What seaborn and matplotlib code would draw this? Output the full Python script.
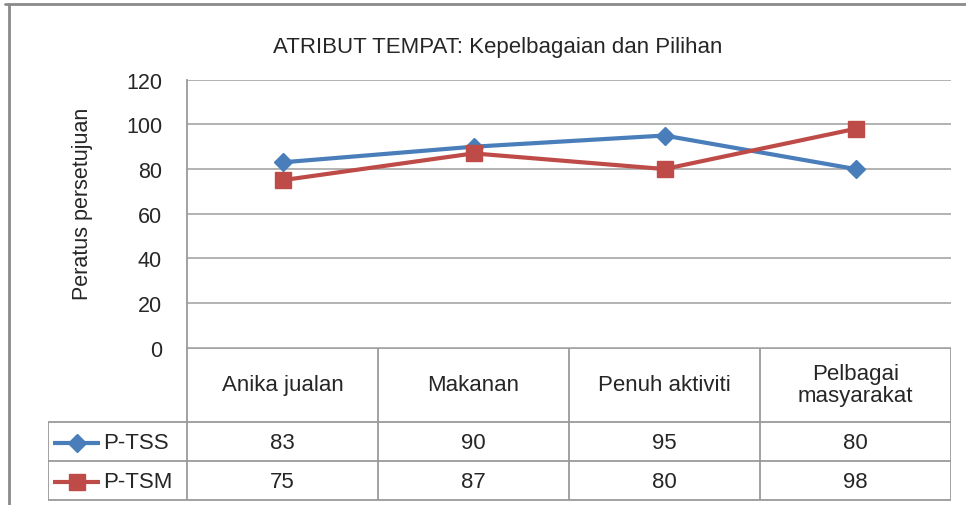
import numpy as np
import matplotlib
matplotlib.use('Agg')
import matplotlib.pyplot as plt
import seaborn as sns
from matplotlib.lines import Line2D

# data
categories = ['Anika jualan', 'Makanan', 'Penuh aktiviti', 'Pelbagai\nmasyarakat']
series_names = ['P-TSS', 'P-TSM']
tss_values = [83, 90, 95, 80]
tsm_values = [75, 87, 80, 98]
y_ticks = [0, 20, 40, 60, 80, 100, 120]
title = 'ATRIBUT TEMPAT: Kepelbagaian dan Pilihan'
y_label = 'Peratus persetujuan'

series_values = {'P-TSS': tss_values, 'P-TSM': tsm_values}
colors = {'P-TSS': '#4A7EBB', 'P-TSM': '#BE4B48'}
markers = {'P-TSS': 'D', 'P-TSM': 's'}
msizes = {'P-TSS': 9, 'P-TSM': 12}

sns.set_style('white')
plt.rcParams['font.family'] = ['Liberation Sans', 'DejaVu Sans']

W, H = 966, 506
fig = plt.figure(figsize=(W / 100, H / 100), dpi=100)

# layout in pixels, measured on the reference
px_left, px_right = 187, 951
px_top, px_zero = 80.7, 348.7
px_tab_left = 48
px_rows = [423, 462, 501]
grid_col = '#ADADAD'
line_col = '#9A9A9A'


def fx(p):
    return p / W


def fy(p):
    return 1 - p / H


ax = fig.add_axes([fx(px_left), fy(px_zero), (px_right - px_left) / W, (px_zero - px_top) / H])
xpos = np.arange(len(categories))
for name in series_names:
    sns.lineplot(x=xpos, y=series_values[name], ax=ax, color=colors[name],
                 marker=markers[name], markersize=msizes[name], linewidth=3,
                 markeredgecolor=colors[name], markeredgewidth=1, legend=False)

ax.set_xlim(-0.5, len(categories) - 0.5)
ax.set_ylim(0, 120)
ax.set_yticks(y_ticks)
ax.set_xticks([])
ax.yaxis.grid(True, color=grid_col, linewidth=1.3)
ax.set_axisbelow(True)
for s in ['top', 'right', 'bottom']:
    ax.spines[s].set_visible(False)
ax.spines['left'].set_color(line_col)
ax.spines['left'].set_linewidth(1.3)
ax.tick_params(axis='y', length=4, width=1.2, color=line_col, pad=14, labelsize=15.5)
ax.set_ylabel(y_label, fontsize=15.5)
ax.yaxis.set_label_coords(-0.123, 0.54)

# data table under the plot, x in the same category units
unit = (px_right - px_left) / len(categories)


def px_to_x(p):
    return -0.5 + (p - px_left) / unit


tab = fig.add_axes([fx(px_tab_left), fy(px_rows[-1] + 1), (px_right - px_tab_left) / W,
                    (px_rows[-1] + 1 - px_zero) / H])
tab.set_xlim(px_to_x(px_tab_left), len(categories) - 0.5)
tab.set_ylim(px_rows[-1] + 1, px_zero)
tab.axis('off')

x_left = px_to_x(px_tab_left)
x_end = len(categories) - 0.5
tab.hlines(px_zero, -0.5, x_end, color=line_col, lw=1.3)
tab.hlines(px_rows, x_left, x_end, color=line_col, lw=1.3)
tab.vlines([i - 0.5 for i in range(len(categories) + 1)], px_zero, px_rows[-1], color=line_col, lw=1.3)
tab.vlines(x_left, px_rows[0], px_rows[-1], color=line_col, lw=1.3)

head_y = (px_zero + px_rows[0]) / 2
for i, cat in enumerate(categories):
    tab.text(i, head_y, cat, ha='center', va='center', fontsize=16, linespacing=1.05)

row_y = [(px_rows[0] + px_rows[1]) / 2, (px_rows[1] + px_rows[2]) / 2]
for r, name in enumerate(series_names):
    y = row_y[r] + 1
    tab.plot([px_to_x(53), px_to_x(100)], [y, y], color=colors[name], lw=3, solid_capstyle='butt')
    tab.plot([px_to_x(77)], [y], color=colors[name], marker=markers[name],
             markersize=msizes[name], markeredgecolor=colors[name])
    tab.text(px_to_x(103), y, name, ha='left', va='center', fontsize=16)
    for i, v in enumerate(series_values[name]):
        tab.text(i, y, str(v), ha='center', va='center', fontsize=16)

fig.text(fx(497.5), fy(53), title, ha='center', va='baseline', fontsize=16)

# outer chart frame (cropped on the right and bottom)
fig.add_artist(Line2D([fx(5), 1], [fy(5), fy(5)], color='#8A8A8A', lw=2))
fig.add_artist(Line2D([fx(9), fx(9)], [fy(5), 0], color='#8A8A8A', lw=2))

fig.savefig('out.png', dpi=100, facecolor='white')
